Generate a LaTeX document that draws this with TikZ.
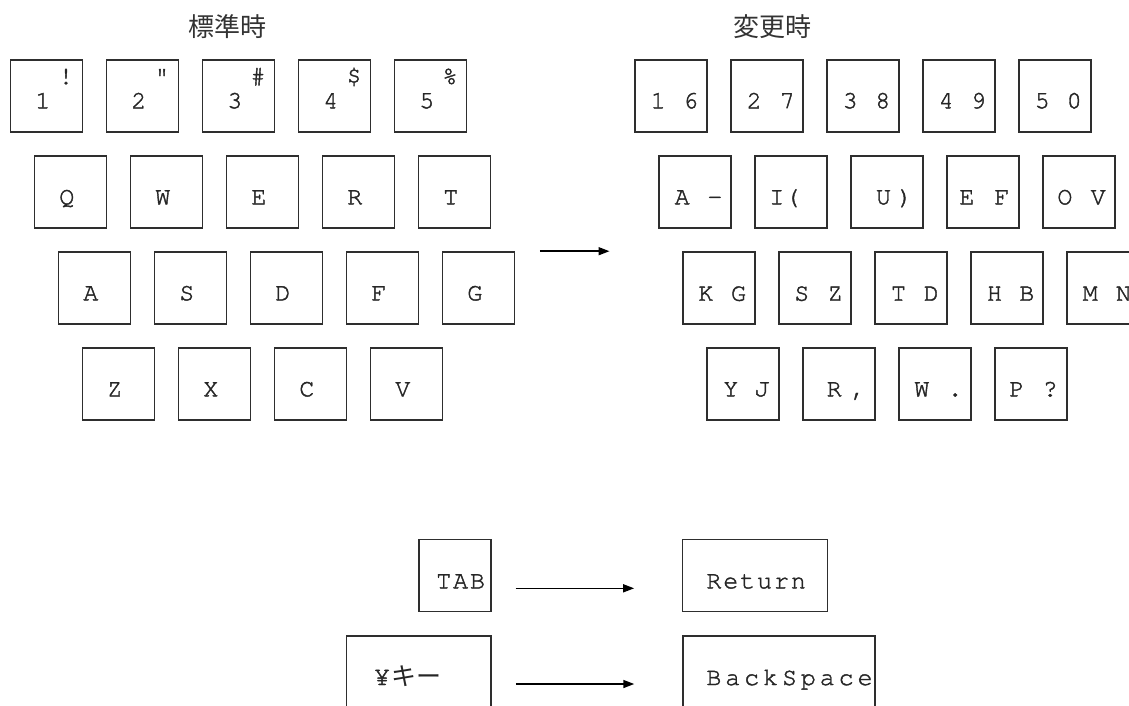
\documentclass[tikz,border=0pt]{standalone}
\usepackage{fontspec}
\setmonofont{texgyrecursor-regular.otf}[FakeBold=1.6]
\newfontfamily\cjkfont{Noto Sans CJK JP}
\usetikzlibrary{arrows.meta}
\definecolor{keygray}{gray}{0.18}

\tikzset{
  key/.style={draw=keygray, line width=1.6pt, minimum width=72pt, minimum height=72pt, inner sep=0pt},
  keychar/.style={anchor=base, inner sep=0pt, text=black!85, font=\fontsize{25}{25}\selectfont\ttfamily},
  keyword/.style={keychar, font=\fontsize{25}{25}\selectfont\ttfamily\addfontfeature{LetterSpace=#1}},
  title/.style={inner sep=0pt, text=black!80, font=\cjkfont\fontsize{26}{26}\selectfont},
  arr/.style={line width=1.5pt, -{Triangle[length=11pt,width=8pt]}},
}

\begin{document}
\begin{tikzpicture}[x=1pt, y=-1pt]
    \useasboundingbox (0,0) rectangle (1129,705);
    \node[title] (std) at (227,27) {標準時};
    \node[title] (chg) at (772,27) {変更時};

    % standard layout
    \foreach \d/\s [count=\i from 0] in {1/!,2/",3/\#,4/\$,5/\%} {
        \node[key] (l-1-\i) at ({46.5+96*\i},96) {};
        \node[keychar] at ([xshift=-3.7pt,yshift=-12.3pt]l-1-\i.center) {\d};
        \node[keychar] at ([xshift=19.5pt,yshift=12pt]l-1-\i.center) {\s};
    }
    \foreach \row/\keys in {2/{Q,W,E,R,T}, 3/{A,S,D,F,G}, 4/{Z,X,C,V}} {
        \foreach \k [count=\i from 0] in \keys {
            \node[key] (l-\row-\i) at ({46.5+24*(\row-1)+96*\i},{96*\row}) {};
            \node[keychar] at ([xshift=-3.7pt,yshift=-12.3pt]l-\row-\i.center) {\k};
        }
    }

    % changed layout
    \foreach \a/\b/\p/\q [count=\i from 0] in {1/6/24/56.6, 2/7/24/57, 3/8/24/56.6, 4/9/24/56.3, 5/0/24/56} {
        \node[key] (r-1-\i) at ({671+96*\i},96) {};
        \node[keychar] at ([xshift=\p pt,yshift=-12.3pt]r-1-\i.west) {\a};
        \node[keychar] at ([xshift=\q pt,yshift=-12.3pt]r-1-\i.west) {\b};
    }
    \foreach \a/\b/\p/\q [count=\i from 0] in {A/-/24/56.7, I/(/22.6/38.3, U/)/33.3/55, E/F/20.6/55.6, O/V/22.7/56} {
        \node[key] (r-2-\i) at ({695+96*\i},192) {};
        \node[keychar] at ([xshift=\p pt,yshift=-12.3pt]r-2-\i.west) {\a};
        \node[keychar] at ([xshift=\q pt,yshift=-12.3pt]r-2-\i.west) {\b};
    }
    \foreach \a/\b/\p/\q [count=\i from 0] in {K/G/23.6/56.3, S/Z/23.6/57, T/D/24.3/57, H/B/24.3/56.6, M/N/24/57.3} {
        \node[key] (r-3-\i) at ({719+96*\i},288) {};
        \node[keychar] at ([xshift=\p pt,yshift=-12.7pt]r-3-\i.west) {\a};
        \node[keychar] at ([xshift=\q pt,yshift=-12.7pt]r-3-\i.west) {\b};
    }
    \foreach \a/\b/\p/\q [count=\i from 0] in {Y/J/24.6/55.6, R/{,}/32/56.3, W/./23.6/57, P/?/22.6/56} {
        \node[key] (r-4-\i) at ({743+96*\i},384) {};
        \node[keychar] at ([xshift=\p pt,yshift=-12.3pt]r-4-\i.west) {\a};
        \node[keychar] at ([xshift=\q pt,yshift=-12.3pt]r-4-\i.west) {\b};
    }
    \draw[arr] ([xshift=24.5pt]l-3-4.north east) -- ([xshift=-72.7pt]r-3-0.north west);

    % other keys
    \node[key] (tab) at (454.8,575.5) {};
    \node[keyword=7.6, anchor=base west] at ([xshift=-18.8pt,yshift=-12.8pt]tab.center) {TAB};
    \node[key, minimum width=144.7pt] (ret) at (755,575.5) {};
    \node[keyword=7.6, anchor=base west] at ([xshift=-48.8pt,yshift=-12.8pt]ret.center) {Return};
    \node[key, minimum width=144.3pt] (yen) at (418.8,672) {};
    \node[keychar, anchor=base west] at ([xshift=-45pt,yshift=-13pt]yen.center) {{\fontsize{27}{27}\selectfont ¥}\hspace{1pt}{\cjkfont\fontsize{25}{25}\selectfont キー}};
    \node[key, minimum width=192.3pt] (bs) at (778.9,672) {};
    \node[keyword=15.6, anchor=base west] at ([xshift=-72.7pt,yshift=-13pt]bs.center) {BackSpace};
    \draw[arr] ([xshift=24pt,yshift=-12.8pt]tab.east) -- ([xshift=-47.7pt,yshift=-12.8pt]ret.west);
    \draw[arr] ([xshift=24pt,yshift=-12pt]yen.east) -- ([xshift=-47.7pt,yshift=-12pt]bs.west);
\end{tikzpicture}
\end{document}
